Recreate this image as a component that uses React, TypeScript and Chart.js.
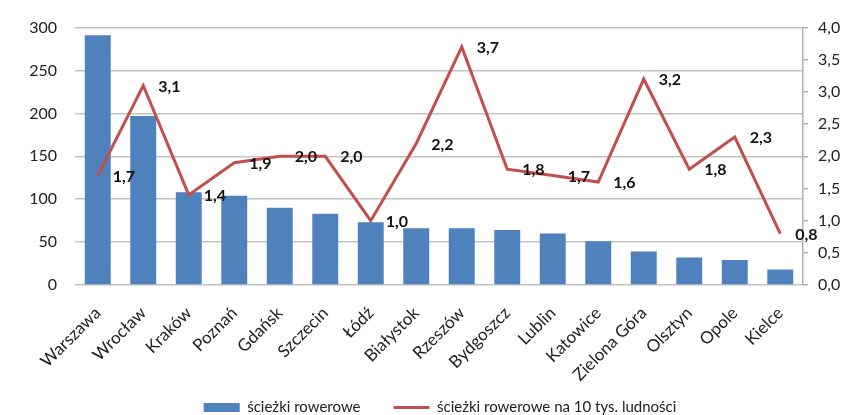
import React, { useEffect, useRef } from "react";
import { Chart, registerables } from "chart.js";

Chart.register(...registerables);

const categories = [
  "Warszawa", "Wrocław", "Kraków", "Poznań", "Gdańsk", "Szczecin", "Łódź", "Białystok",
  "Rzeszów", "Bydgoszcz", "Lublin", "Katowice", "Zielona Góra", "Olsztyn", "Opole", "Kielce",
];
const pathsKm = [291, 197, 108, 104, 90, 83, 73, 66, 66, 64, 60, 51, 39, 32, 29, 18];
const pathsPer10k = [1.7, 3.1, 1.4, 1.9, 2.0, 2.0, 1.0, 2.2, 3.7, 1.8, 1.7, 1.6, 3.2, 1.8, 2.3, 0.8];
const leftTicks = [0, 50, 100, 150, 200, 250, 300];
const rightTicks = [0, 0.5, 1, 1.5, 2, 2.5, 3, 3.5, 4];

const FONT = "Lato, 'Open Sans', sans-serif";
const fmt = (v: number) => v.toFixed(1).replace(".", ",");

const labelPlugin = {
  id: "lineValueLabels",
  afterLayout(chart: any) {
    // let the rotated category labels extend into the legend band without being clipped
    const x = chart.scales.x;
    x.bottom = chart.height;
    x.height = x.bottom - x.top;
  },
  afterDatasetsDraw(chart: any) {
    const meta = chart.getDatasetMeta(1);
    const ctx = chart.ctx;
    ctx.save();
    ctx.font = `bold 16px ${FONT}`;
    ctx.fillStyle = "#111";
    ctx.textAlign = "left";
    ctx.textBaseline = "middle";
    meta.data.forEach((pt: any, i: number) => {
      ctx.fillText(fmt(pathsPer10k[i]), pt.x + 15, pt.y + 1);
    });
    ctx.restore();
  },
};

export default function App() {
  const ref = useRef<HTMLCanvasElement | null>(null);
  useEffect(() => {
    if (!ref.current) return;
    const chart = new Chart(ref.current, {
      type: "bar",
      data: {
        labels: categories,
        datasets: [
          {
            type: "bar",
            label: "ścieżki rowerowe",
            data: pathsKm,
            backgroundColor: "#4F81BD",
            yAxisID: "y",
            order: 1,
            categoryPercentage: 1,
            barPercentage: 0.57,
          } as any,
          {
            type: "line",
            label: "ścieżki rowerowe na 10 tys. ludności",
            data: pathsPer10k,
            borderColor: "#C0504D",
            backgroundColor: "#C0504D",
            borderWidth: 3,
            pointRadius: 0,
            tension: 0,
            yAxisID: "y1",
            order: 0,
            pointStyle: "line",
          } as any,
        ],
      },
      options: {
        responsive: true,
        maintainAspectRatio: false,
        animation: false,
        layout: { padding: { top: 24, left: 26, right: 0, bottom: 0 } },
        plugins: {
          tooltip: { enabled: false },
          legend: {
            position: "bottom",
            labels: {
              usePointStyle: true,
              pointStyleWidth: 36,
              boxHeight: 9,
              padding: 33,
              color: "#222",
              font: { family: FONT, size: 15 },
              generateLabels: (c: any) =>
                c.data.datasets.map((ds: any, i: number) => ({
                  text: ds.label,
                  fillStyle: i === 0 ? "#4F81BD" : "#C0504D",
                  strokeStyle: i === 0 ? "#4F81BD" : "#C0504D",
                  lineWidth: i === 0 ? 0 : 3,
                  pointStyle: i === 0 ? "rect" : "line",
                  datasetIndex: i,
                  hidden: false,
                  fontColor: "#222",
                })),
            },
          },
        },
        scales: {
          x: {
            grid: { display: false, drawTicks: false },
            border: { display: false },
            afterFit: (s: any) => { s.height = 82; },
            ticks: {
              minRotation: 45,
              maxRotation: 45,
              padding: 18,
              color: "#222",
              font: { family: FONT, size: 17 },
            },
          },
          y: {
            position: "left",
            min: 0,
            max: 300,
            afterFit: (s: any) => { s.width = 49; },
            afterBuildTicks: (s: any) => { s.ticks = leftTicks.map((v) => ({ value: v })); },
            grid: { color: "#c2c2c2", lineWidth: 1.5, drawTicks: false },
            border: { display: false },
            ticks: {
              padding: 18,
              color: "#222",
              font: { family: FONT, size: 16 },
              callback: (v: any) => String(v),
            },
          },
          y1: {
            position: "right",
            min: 0,
            max: 4,
            afterFit: (s: any) => { s.width = 51; },
            afterBuildTicks: (s: any) => { s.ticks = rightTicks.map((v) => ({ value: v })); },
            grid: { drawOnChartArea: false, drawTicks: true, tickLength: 5, color: "#b0b0b0", lineWidth: 1.5 },
            border: { display: true, color: "#b0b0b0", width: 1.5 },
            ticks: {
              padding: 10,
              color: "#222",
              font: { family: FONT, size: 16 },
              callback: (v: any) => fmt(Number(v)),
            },
          },
        },
      },
      plugins: [labelPlugin],
    });
    return () => chart.destroy();
  }, []);

  return (
    <div style={{ position: "fixed", left: 0, top: 0, width: 854, height: 415, overflow: "hidden", background: "#fff" }}>
      <div style={{ position: "relative", width: 854, height: 425 }}>
        <canvas ref={ref} />
      </div>
    </div>
  );
}
